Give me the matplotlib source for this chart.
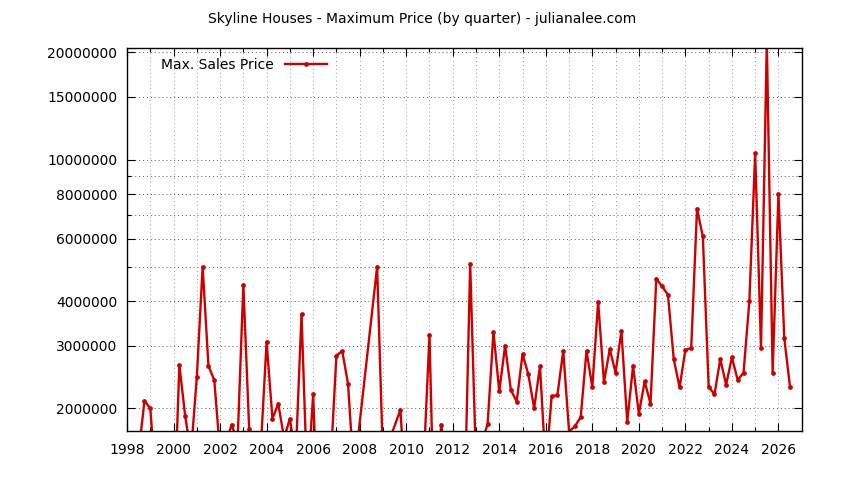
import matplotlib
matplotlib.use("Agg")
import matplotlib.pyplot as plt
from matplotlib.ticker import FixedLocator, FuncFormatter, NullFormatter

# quarter positions (year + (q-1)/4) and max sale price per quarter
quarters = [
    1998.50, 1998.75, 1999.00, 1999.25, 1999.50, 1999.75,
    2000.00, 2000.25, 2000.50, 2000.75, 2001.00, 2001.25, 2001.50, 2001.75,
    2002.00, 2002.25, 2002.50, 2002.75, 2003.00, 2003.25, 2003.50, 2003.75,
    2004.00, 2004.25, 2004.50, 2004.75, 2005.00, 2005.25, 2005.50, 2005.75,
    2006.00, 2006.25, 2006.50, 2006.75, 2007.00, 2007.25, 2007.50, 2007.75,
    2008.75, 2009.00, 2009.75,
    2010.00, 2010.25, 2010.50, 2010.75, 2011.00, 2011.25, 2011.50, 2011.75,
    2012.00, 2012.25, 2012.50, 2012.75, 2013.00, 2013.50, 2013.75,
    2014.00, 2014.25, 2014.50, 2014.75, 2015.00, 2015.25, 2015.50, 2015.75,
    2016.00, 2016.25, 2016.50, 2016.75, 2017.00, 2017.25, 2017.50, 2017.75,
    2018.00, 2018.25, 2018.50, 2018.75, 2019.00, 2019.25, 2019.50, 2019.75,
    2020.00, 2020.25, 2020.50, 2020.75, 2021.00, 2021.25, 2021.50, 2021.75,
    2022.00, 2022.25, 2022.50, 2022.75, 2023.00, 2023.25, 2023.50, 2023.75,
    2024.00, 2024.25, 2024.50, 2024.75, 2025.00, 2025.25, 2025.50, 2025.75,
    2026.00, 2026.25, 2026.50,
]
max_price = [
    1.50e6, 2.10e6, 2.00e6, 1.20e6, 1.30e6, 1.25e6,
    0.90e6, 2.65e6, 1.90e6, 1.50e6, 2.45e6, 5.00e6, 2.63e6, 2.40e6,
    1.50e6, 1.60e6, 1.80e6, 1.60e6, 4.44e6, 1.75e6, 1.40e6, 1.55e6,
    3.08e6, 1.87e6, 2.06e6, 1.65e6, 1.87e6, 1.45e6, 3.68e6, 1.20e6,
    2.19e6, 0.80e6, 1.00e6, 1.40e6, 2.81e6, 2.90e6, 2.34e6, 1.30e6,
    5.00e6, 1.45e6, 1.98e6,
    1.10e6, 1.20e6, 1.30e6, 1.40e6, 3.21e6, 0.70e6, 1.80e6, 1.40e6,
    1.20e6, 1.30e6, 1.00e6, 5.09e6, 1.40e6, 1.81e6, 3.28e6,
    2.23e6, 3.00e6, 2.25e6, 2.09e6, 2.84e6, 2.49e6, 2.00e6, 2.63e6,
    1.35e6, 2.16e6, 2.18e6, 2.90e6, 1.72e6, 1.78e6, 1.89e6, 2.90e6,
    2.29e6, 3.99e6, 2.37e6, 2.93e6, 2.52e6, 3.30e6, 1.83e6, 2.63e6,
    1.93e6, 2.38e6, 2.06e6, 4.63e6, 4.40e6, 4.17e6, 2.75e6, 2.29e6,
    2.92e6, 2.95e6, 7.27e6, 6.08e6, 2.30e6, 2.19e6, 2.75e6, 2.33e6,
    2.78e6, 2.40e6, 2.52e6, 4.01e6, 10.42e6, 2.95e6, 21.5e6, 2.52e6,
    8.00e6, 3.15e6, 2.29e6,
]

y_major = [2e6, 3e6, 4e6, 6e6, 8e6, 10e6, 15e6, 20e6]
y_minor = [5e6, 7e6, 9e6]
x_major = list(range(1998, 2027, 2))
x_minor = list(range(1999, 2027, 2))

RED = "#cc0000"

plt.rcParams["font.family"] = "DejaVu Sans"
fig = plt.figure(figsize=(8.44, 4.80), dpi=100)
ax = fig.add_axes([0.1505, 0.1021, 0.7994, 0.7979])

ax.plot(quarters, max_price, color=RED, lw=1.7, marker="o", ms=2.4,
        label="Max. Sales Price")

ax.set_yscale("log")
ax.set_xlim(1998, 2027)
ax.set_ylim(1.727e6, 2.058e7)

ax.yaxis.set_major_locator(FixedLocator(y_major))
ax.yaxis.set_minor_locator(FixedLocator(y_minor))
ax.yaxis.set_major_formatter(FuncFormatter(lambda v, _: f"{int(round(v))}"))
ax.yaxis.set_minor_formatter(NullFormatter())
ax.xaxis.set_major_locator(FixedLocator(x_major))
ax.xaxis.set_minor_locator(FixedLocator(x_minor))

ax.tick_params(which="both", direction="in", top=True, right=True,
               labelsize=10, colors="black")
ax.tick_params(which="major", length=6, width=0.8)
ax.tick_params(which="minor", length=3, width=0.8)
ax.tick_params(axis="y", pad=7)
ax.tick_params(axis="x", pad=9)

ax.grid(axis="y", which="both", color="#555555", linestyle=(0, (1, 3)), lw=0.7)
ax.grid(axis="x", which="both", color="#999999", linestyle=(0, (1, 3)), lw=0.7)
ax.set_axisbelow(True)
for sp in ax.spines.values():
    sp.set_linewidth(1.0)

ax.legend(loc="upper left", bbox_to_anchor=(0.036, 1.0), frameon=False,
          markerfirst=False, handlelength=3.0, numpoints=1, fontsize=10,
          borderaxespad=0.3)

fig.text(0.5, 0.96, "Skyline Houses - Maximum Price (by quarter) - julianalee.com",
         ha="center", va="center", fontsize=10)

fig.savefig("out.png", dpi=100)
